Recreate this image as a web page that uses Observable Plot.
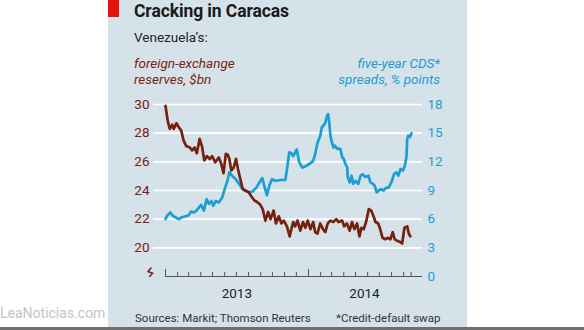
<!DOCTYPE html>
<html>
<head>
<meta charset="utf-8">
<script src="https://cdn.jsdelivr.net/npm/d3@7"></script>
<script src="https://cdn.jsdelivr.net/npm/@observablehq/plot@0.6"></script>
<style>
  html, body { margin: 0; padding: 0; background: #fff; }
  body { width: 584px; height: 330px; position: relative; overflow: hidden; font-family: Roboto, "Open Sans", sans-serif; }
  .abs { position: absolute; white-space: nowrap; line-height: 1; }
  #panel { position: absolute; left: 108px; top: 0; width: 359px; height: 327px; background: #d6e2ea; }
  #redbar { position: absolute; left: 108px; top: 0; width: 11px; height: 17px; background: #e3120b; }
  #bottomline { position: absolute; left: 0; top: 327px; width: 584px; height: 3px; background: #6e6e6e; }
  #chart { position: absolute; left: 108px; top: 90px; }
</style>
</head>
<body>
<div class="abs" style="left:0px;top:306px;font-size:14px;color:#c4c4c4;">LeaNoticias.com</div>
<div id="panel"></div>
<div id="redbar"></div>
<div class="abs" style="left:134px;top:3px;font-size:17.5px;font-weight:bold;color:#1a1a1a;letter-spacing:-0.1px;">Cracking in Caracas</div>
<div class="abs" style="left:134px;top:31px;font-size:13.5px;color:#222;">Venezuela’s:</div>
<div class="abs" style="left:134px;top:55px;font-size:13.5px;font-style:italic;color:#7a2412;line-height:16px;">foreign-exchange<br>reserves, $bn</div>
<div class="abs" style="right:144px;top:55px;font-size:13.5px;font-style:italic;color:#1d9bcf;line-height:16px;text-align:right;">five-year CDS*<br>spreads, % points</div>
<div id="chart"></div>
<div class="abs" style="left:135px;top:313px;font-size:11.5px;color:#333;">Sources: Markit; Thomson Reuters</div>
<div class="abs" style="left:336px;top:313px;font-size:11.5px;color:#333;">*Credit-default swap</div>
<div id="bottomline"></div>
<script>
// Foreign-exchange reserves, $bn
const reserveDates = ["2013-01-01","2013-01-07","2013-01-12","2013-01-18","2013-01-22","2013-01-29","2013-02-04","2013-02-10","2013-02-16","2013-02-23","2013-03-04","2013-03-10","2013-03-16","2013-03-22","2013-03-29","2013-04-04","2013-04-10","2013-04-17","2013-04-24","2013-04-30","2013-05-08","2013-05-17","2013-05-23","2013-05-29","2013-06-04","2013-06-09","2013-06-13","2013-06-18","2013-06-24","2013-06-30","2013-07-05","2013-07-11","2013-07-17","2013-07-24","2013-08-01","2013-08-08","2013-08-16","2013-08-23","2013-08-31","2013-09-06","2013-09-13","2013-09-20","2013-09-26","2013-10-04","2013-10-10","2013-10-17","2013-10-24","2013-10-30","2013-11-07","2013-11-14","2013-11-20","2013-11-23","2013-11-28","2013-12-04","2013-12-11","2013-12-18","2013-12-24","2013-12-30","2014-01-06","2014-01-13","2014-01-18","2014-01-24","2014-01-31","2014-02-07","2014-02-13","2014-02-19","2014-02-26","2014-03-05","2014-03-13","2014-03-19","2014-03-28","2014-04-02","2014-04-09","2014-04-16","2014-04-22","2014-04-28","2014-05-05","2014-05-11","2014-05-16","2014-05-22","2014-05-28","2014-06-04","2014-06-10","2014-06-16","2014-06-21","2014-06-28","2014-07-03","2014-07-09","2014-07-16","2014-07-23","2014-07-29","2014-08-04","2014-08-09","2014-08-15","2014-08-23","2014-08-28","2014-09-03","2014-09-10","2014-09-14","2014-09-18"];
const reserveValues = [29.9,28.8,28.3,28.6,28.3,28.7,28.4,28.2,27.5,27.1,27.0,26.8,27.0,26.6,27.6,27.1,26.1,26.4,26.2,26.4,25.97,26.3,25.9,25.2,26.55,26.5,26.2,25.4,25.6,26.2,25.5,24.8,24.1,24.0,23.9,23.6,23.3,23.2,23.0,22.7,21.9,22.5,22.0,22.6,21.7,22.2,21.7,21.9,21.5,20.8,21.5,21.8,21.5,21.9,21.2,21.8,21.4,21.9,21.3,21.8,21.1,21.0,21.7,21.3,21.1,21.7,21.9,21.8,22.0,21.8,21.9,21.5,21.7,21.2,21.8,21.3,21.7,20.8,21.4,21.3,21.8,22.7,22.6,22.2,21.8,21.7,21.3,20.7,20.6,20.7,20.6,21.1,20.6,20.5,20.4,20.3,21.4,21.5,21.0,20.8];

// Five-year CDS spreads, % points
const cdsDates = ["2013-01-01","2013-01-05","2013-01-13","2013-01-20","2013-01-26","2013-02-04","2013-02-12","2013-02-21","2013-03-01","2013-03-07","2013-03-14","2013-03-21","2013-03-27","2013-04-02","2013-04-09","2013-04-16","2013-04-22","2013-04-28","2013-05-03","2013-05-09","2013-05-17","2013-05-26","2013-06-01","2013-06-08","2013-06-13","2013-06-21","2013-06-29","2013-07-06","2013-07-14","2013-07-22","2013-08-01","2013-08-11","2013-08-21","2013-08-31","2013-09-05","2013-09-10","2013-09-17","2013-09-23","2013-09-30","2013-10-08","2013-10-21","2013-11-03","2013-11-08","2013-11-13","2013-11-18","2013-11-23","2013-12-02","2013-12-08","2013-12-16","2013-12-23","2014-01-04","2014-01-13","2014-01-18","2014-01-24","2014-01-31","2014-02-04","2014-02-08","2014-02-13","2014-02-17","2014-02-20","2014-02-23","2014-02-26","2014-03-02","2014-03-06","2014-03-10","2014-03-15","2014-03-19","2014-03-23","2014-03-28","2014-04-01","2014-04-05","2014-04-10","2014-04-11","2014-04-16","2014-04-21","2014-04-25","2014-05-01","2014-05-08","2014-05-14","2014-05-19","2014-05-26","2014-06-03","2014-06-08","2014-06-14","2014-06-19","2014-06-24","2014-06-29","2014-07-06","2014-07-12","2014-07-18","2014-07-25","2014-08-02","2014-08-07","2014-08-13","2014-08-18","2014-08-24","2014-08-30","2014-09-04","2014-09-08","2014-09-10","2014-09-13","2014-09-17","2014-09-21"];
const cdsValues = [6.0,6.35,6.7,6.35,6.2,6.0,6.2,6.3,6.4,6.8,6.7,6.9,7.2,7.5,6.9,8.1,7.6,7.9,7.4,7.9,7.75,8.3,9.15,10.0,10.9,10.5,10.2,9.8,9.3,9.0,8.8,8.9,9.3,10.0,10.3,9.5,8.5,9.5,10.2,10.0,10.1,10.1,11.5,13.0,12.9,12.6,13.3,12.0,11.4,11.5,11.8,12.1,12.8,14.0,14.7,15.6,15.8,16.1,16.8,17.0,16.1,14.7,14.0,13.5,13.7,13.35,13.4,13.35,12.5,12.3,11.8,11.4,10.4,9.85,10.55,9.7,10.0,9.7,10.55,10.7,10.4,10.55,9.85,9.7,9.5,8.8,9.0,9.15,9.0,9.3,9.3,10.0,10.7,10.9,10.55,11.25,11.1,11.6,12.5,14.4,14.75,14.6,15.0];

// Axis ticks / labels
const leftTicks = [20, 22, 24, 26, 28, 30];          // $bn
const rightTicks = [0, 3, 6, 9, 12, 15, 18];          // % points
const monthTicks = ["2013-01-01","2013-02-01","2013-03-01","2013-04-01","2013-05-01","2013-06-01","2013-07-01","2013-08-01","2013-09-01","2013-10-01","2013-11-01","2013-12-01","2014-01-01","2014-02-01","2014-03-01","2014-04-01","2014-05-01","2014-06-01","2014-07-01","2014-08-01","2014-09-01","2014-09-20"];
const yearTicks = ["2013-01-01","2014-01-01"];
const yearLabels = ["2013", "2014"];
const yearLabelDates = ["2013-07-02","2014-05-24"];
const xDomain = ["2013-01-01","2014-10-19"];

const parse = d3.utcParse("%Y-%m-%d");
const reserves = reserveDates.map((d, i) => ({date: parse(d), value: reserveValues[i]}));
const cds = cdsDates.map((d, i) => ({date: parse(d), value: cdsValues[i]}));
// right axis (0–18) is drawn on the left axis scale (18–30)
const toLeft = v => 18 + v * 2 / 3;
const BROWN = "#76200e", BLUE = "#1b9fd2";

const chart = Plot.plot({
  width: 359,
  height: 215,
  marginLeft: 57,
  marginRight: 45,
  marginTop: 14,
  marginBottom: 29,
  style: {background: "transparent", fontFamily: "Roboto, 'Open Sans', sans-serif", overflow: "visible"},
  x: {type: "utc", domain: xDomain.map(parse)},
  y: {domain: [18, 30]},
  marks: [
    Plot.ruleY(leftTicks, {stroke: "white", strokeWidth: 1.6, insetLeft: -12}),
    Plot.ruleY([18], {stroke: "#555", strokeWidth: 1}),
    Plot.axisX({ticks: monthTicks.map(parse), tickSize: -4, tickFormat: () => "", label: null, stroke: "#555", strokeWidth: 1}),
    Plot.axisX({ticks: yearTicks.map(parse), tickSize: -7, tickFormat: () => "", label: null, stroke: "#555", strokeWidth: 1}),
    Plot.text(yearLabelDates.map(parse), {x: d => d, y: 18, text: (d, i) => yearLabels[i], dy: 17, fontSize: 13.5, fill: "#222"}),
    Plot.axisY({anchor: "left", ticks: leftTicks, tickSize: 0, tickPadding: 16, fontSize: 13.5, color: BROWN, label: null}),
    Plot.axisY({anchor: "right", ticks: rightTicks.map(toLeft), tickSize: 0, tickPadding: 5, fontSize: 13.5, color: BLUE, label: null,
      tickFormat: d => String(Math.round((d - 18) * 1.5))}),
    Plot.text(["ϟ"], {frameAnchor: "bottom-left", text: d => d, dx: -20, dy: -1, fontSize: 13, fontWeight: "bold", fill: BROWN, rotate: 20}),
    Plot.line(cds, {x: "date", y: d => toLeft(d.value), stroke: BLUE, strokeWidth: 2.7, strokeLinejoin: "round"}),
    Plot.line(reserves, {x: "date", y: "value", stroke: BROWN, strokeWidth: 2.7, strokeLinejoin: "round"})
  ]
});
document.getElementById("chart").appendChild(chart);
</script>
</body>
</html>
